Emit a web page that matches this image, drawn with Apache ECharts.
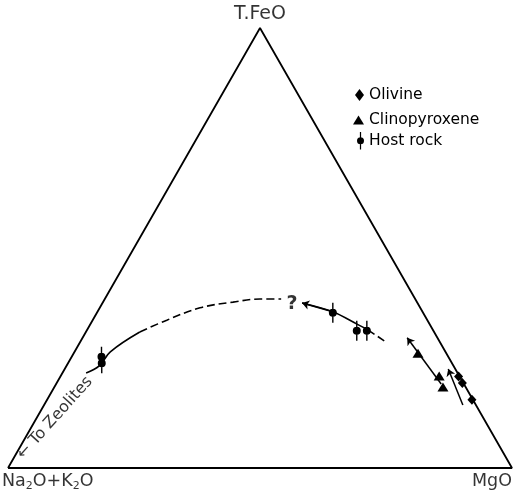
<!DOCTYPE html>
<html>
<head>
<meta charset="utf-8">
<script src="https://cdn.jsdelivr.net/npm/echarts@6/dist/echarts.min.js"></script>
<style>
  html, body { margin: 0; padding: 0; background: #fff; }
  #chart { width: 515px; height: 497px; }
</style>
</head>
<body>
<div id="chart"></div>
<script>
// Compositions as [T.FeO, MgO, Na2O+K2O]
const olivine = [[20.8, 79.0, 0.2], [19.3, 80.5, 0.2], [15.5, 84.3, 0.2]];
const clinopyroxene = [[26.1, 68.3, 5.6], [20.9, 75.1, 4.0], [18.4, 77.1, 4.5]];
const hostRock = [[25.3, 5.9, 68.8], [23.8, 6.7, 69.5], [35.3, 46.8, 17.9], [31.2, 53.6, 15.2], [31.2, 55.6, 13.2]];

// Trend lines
const trendToZeolites = [[21.6, 4.7, 73.7], [23.2, 6.5, 70.3], [26.4, 7.1, 66.5], [30.9, 10.7, 58.4]];
const trendInferred = [[30.9, 10.7, 58.4], [33.6, 14.7, 51.7], [36.4, 19.9, 43.7], [37.7, 25.8, 36.5], [38.4, 30.8, 30.8], [38.4, 35.0, 26.6]];
const hostTrendSolid = [[37.5, 39.6, 22.9], [35.5, 46.7, 17.8], [32.7, 52.9, 14.4], [31.4, 55.7, 12.9]];
const hostTrendDashed = [[31.4, 55.7, 12.9], [28.9, 60.2, 10.9]];
const cpxTrend = [[29.6, 64.4, 6.0], [19.1, 76.4, 4.5]];
const olivineTrend = [[22.5, 76.1, 1.4], [14.3, 83.1, 2.6]];

// Triangle corners
const vertices = { feo: [100, 0, 0], mgo: [0, 100, 0], alk: [0, 0, 100] };

// Annotation positions
const questionMark = [37.3, 37.7, 25.0];
const zeoliteLabel = [11.4, 3.6, 85.0];

const SQ3 = Math.sqrt(3) / 2;
function toXY(c) {
  const s = c[0] + c[1] + c[2];
  const f = c[0] / s * 100, m = c[1] / s * 100;
  return [m + f / 2, f * SQ3];
}

const FONT = 'DejaVu Sans';
const INK = '#000';
const hostSymbol = 'path://M4.3,0 H5.7 V20 H4.3 Z M1,10 A4,4 0 1,1 9,10 A4,4 0 1,1 1,10 Z';

const chart = echarts.init(document.getElementById('chart'), null, { renderer: 'canvas' });

const solid = { color: INK, width: 1.6 };
const dashed = { color: INK, width: 1.6, type: [8, 4] };
const legendText = { fontFamily: FONT, fontSize: 15.5, color: INK };

// One legend block per mineral so each icon keeps its own proportions;
// text starts at the same x for all three rows.
function legendFor(name, top, w, h) {
  return {
    orient: 'vertical', left: 369 - 10 - w, top: top,
    itemWidth: w, itemHeight: h, itemGap: 0, selectedMode: false,
    textStyle: legendText, data: [name]
  };
}

chart.setOption({
  animation: false,
  backgroundColor: '#fff',
  grid: { left: 8, right: 3, top: 28, bottom: 29 },
  xAxis: { type: 'value', min: 0, max: 100, show: false },
  yAxis: { type: 'value', min: 0, max: 50 * Math.sqrt(3), show: false },
  legend: [
    legendFor('Olivine', 82, 9, 12),
    legendFor('Clinopyroxene', 107, 11, 9),
    legendFor('Host rock', 127, 7, 18)
  ],
  series: [
    {
      type: 'line', silent: true, symbol: 'none',
      data: [vertices.alk, vertices.mgo, vertices.feo, vertices.alk].map(toXY),
      lineStyle: { color: INK, width: 1.8 }
    },
    {
      type: 'line', silent: true, symbol: 'none', smooth: 0.4,
      data: trendToZeolites.map(toXY), lineStyle: solid
    },
    {
      type: 'line', silent: true, symbol: 'none', smooth: 0.4,
      data: trendInferred.map(toXY), lineStyle: dashed
    },
    {
      type: 'line', silent: true, symbol: 'none', smooth: 0.3,
      data: hostTrendSolid.map(toXY), lineStyle: solid
    },
    {
      type: 'line', silent: true, symbol: 'none',
      data: hostTrendDashed.map(toXY), lineStyle: dashed
    },
    {
      type: 'lines', coordinateSystem: 'cartesian2d', silent: true,
      symbol: ['arrow', 'none'], symbolSize: 7,
      lineStyle: { color: INK, width: 1.5, opacity: 1 },
      data: [
        { coords: [toXY(hostTrendSolid[0]), toXY(hostTrendSolid[1])] },
        { coords: cpxTrend.map(toXY) },
        { coords: olivineTrend.map(toXY) }
      ]
    },
    {
      name: 'Olivine', type: 'scatter', symbol: 'diamond', symbolSize: [9, 10],
      itemStyle: { color: INK, opacity: 1 }, data: olivine.map(toXY)
    },
    {
      name: 'Clinopyroxene', type: 'scatter', symbol: 'triangle', symbolSize: [11, 9],
      itemStyle: { color: INK, opacity: 1 }, data: clinopyroxene.map(toXY)
    },
    {
      name: 'Host rock', type: 'scatter', symbol: hostSymbol, symbolSize: [8, 20],
      itemStyle: { color: INK, opacity: 1 }, data: hostRock.map(toXY)
    },
    {
      type: 'scatter', silent: true, symbolSize: 0,
      label: { show: true, color: INK, fontFamily: FONT },
      data: [
        { value: toXY(vertices.feo), label: { position: 'top', distance: 4, fontSize: 19, formatter: 'T.FeO' } },
        {
          value: toXY(vertices.alk),
          label: {
            position: 'bottom', distance: 4, align: 'left', offset: [-6, 0],
            formatter: '{b|Na}{s|2}{b|O+K}{s|2}{b|O}',
            rich: {
              b: { fontFamily: FONT, fontSize: 17.5, lineHeight: 20, verticalAlign: 'top', color: INK },
              s: { fontFamily: FONT, fontSize: 11, lineHeight: 14, verticalAlign: 'top', padding: [9, 0, 0, 0], color: INK }
            }
          }
        },
        { value: toXY(vertices.mgo), label: { position: 'bottom', distance: 4, align: 'right', offset: [0, 0], fontSize: 17.5, formatter: 'MgO' } },
        { value: toXY(questionMark), label: { position: 'inside', fontSize: 19, fontWeight: 'bold', formatter: '?' } },
        { value: toXY(zeoliteLabel), label: { position: 'inside', fontSize: 16, rotate: 48, formatter: '← To Zeolites' } }
      ]
    }
  ]
});
</script>
</body>
</html>
